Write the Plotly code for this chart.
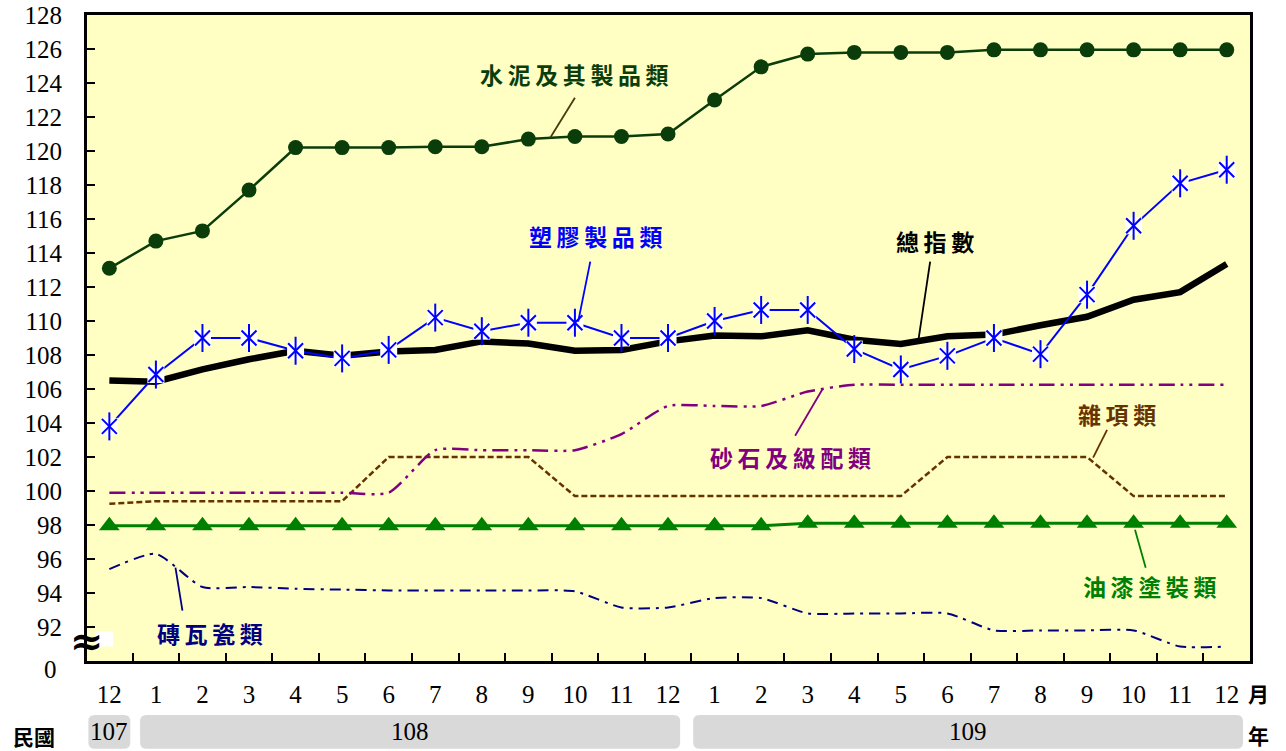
import plotly.graph_objects as go

# ---------------- data ----------------
months = ["12", "1", "2", "3", "4", "5", "6", "7", "8", "9", "10", "11", "12",
          "1", "2", "3", "4", "5", "6", "7", "8", "9", "10", "11", "12"]
x_idx = list(range(len(months)))

cement = [113.1, 114.7, 115.3, 117.7, 120.2, 120.2, 120.2, 120.25, 120.25, 120.7, 120.85, 120.85, 121.0,
          123.0, 124.95, 125.7, 125.8, 125.8, 125.8, 125.95, 125.95, 125.95, 125.95, 125.95, 125.95]
total = [106.5, 106.43, 107.15, 107.75, 108.25, 107.95, 108.2, 108.3, 108.8, 108.67, 108.25, 108.3, 108.8,
         109.15, 109.1, 109.45, 108.9, 108.65, 109.1, 109.2, 109.75, 110.25, 111.25, 111.7, 113.35]
plastic = [103.8, 106.85, 109.0, 109.0, 108.25, 107.8, 108.3, 110.2, 109.4, 109.9, 109.9, 109.0, 109.0,
           110.0, 110.65, 110.65, 108.35, 107.15, 107.95, 109.0, 108.05, 111.55, 115.6, 118.1, 118.9]
gravel = [99.9, 99.9, 99.9, 99.9, 99.9, 99.9, 99.9, 102.4, 102.4, 102.4, 102.4, 103.35, 105.0,
          105.0, 105.0, 105.85, 106.25, 106.25, 106.25, 106.25, 106.25, 106.25, 106.25, 106.25, 106.25]
misc = [99.25, 99.4, 99.4, 99.4, 99.4, 99.4, 102.0, 102.0, 102.0, 102.0, 99.7, 99.7, 99.7,
        99.7, 99.7, 99.7, 99.7, 99.7, 102.0, 102.0, 102.0, 102.0, 99.7, 99.7, 99.7]
paint = [97.95] * 15 + [98.1] * 10
tile = [95.4, 96.3, 94.35, 94.35, 94.25, 94.2, 94.15, 94.15, 94.15, 94.15, 94.1, 93.15, 93.15,
        93.7, 93.7, 92.8, 92.8, 92.8, 92.8, 91.8, 91.8, 91.8, 91.8, 90.85, 90.85]

y_tickvals = list(range(90, 129, 2))
y_ticktext = [""] + [str(v) for v in range(92, 129, 2)]
y_break_label = "0"

years = ["107", "108", "109"]
year_spans = [(-0.45, 0.45), (0.66, 12.26), (12.54, 24.35)]

series_labels = ["水泥及其製品類", "塑膠製品類", "總指數", "砂石及級配類", "雜項類", "油漆塗裝類", "磚瓦瓷類"]

# ---------------- colours ----------------
C_CEMENT = "#0b3d0b"
C_BLUE = "#0000ff"
C_BLACK = "#000000"
C_PURPLE = "#800080"
C_BROWN = "#663300"
C_GREEN = "#008000"
C_NAVY = "#000080"

NUM_FONT = "Liberation Serif, Times New Roman, serif"
CJK_FONT = "Noto Sans CJK TC, Noto Sans CJK SC, sans-serif"
NUM_SIZE = 25


def spaced(s):
    return "\u2009".join(s)


fig = go.Figure()

# tile
fig.add_trace(go.Scatter(x=x_idx, y=tile, mode="lines",
                         line=dict(color=C_NAVY, width=2, dash="11px,6px,3px,6px", shape="spline", smoothing=0.6),
                         name=series_labels[6]))
# paint
fig.add_trace(go.Scatter(x=x_idx, y=paint, mode="lines+markers", line=dict(color=C_GREEN, width=3),
                         marker=dict(symbol="triangle-up", size=18, color=C_GREEN), name=series_labels[5]))
# misc
fig.add_trace(go.Scatter(x=x_idx, y=misc, mode="lines", line=dict(color=C_BROWN, width=2.5, dash="6px,3px"),
                         name=series_labels[4]))
# gravel
fig.add_trace(go.Scatter(x=x_idx, y=gravel, mode="lines",
                         line=dict(color=C_PURPLE, width=2.5, dash="16px,6px,3px,6px,3px,6px",
                                   shape="spline", smoothing=0.6),
                         name=series_labels[3]))
# total
fig.add_trace(go.Scatter(x=x_idx, y=total, mode="lines", line=dict(color=C_BLACK, width=6.5),
                         name=series_labels[2]))
# plastic: line + white square backgrounds + 6-armed star
fig.add_trace(go.Scatter(x=x_idx, y=plastic, mode="lines+markers", line=dict(color=C_BLUE, width=2),
                         marker=dict(symbol="square", size=17, color="white", line=dict(width=0)),
                         name=series_labels[1]))
fig.add_trace(go.Scatter(x=x_idx, y=plastic, mode="markers",
                         marker=dict(symbol="x-thin-open", size=15, color=C_BLUE, line=dict(color=C_BLUE, width=2)),
                         showlegend=False, hoverinfo="skip"))
fig.add_trace(go.Scatter(x=x_idx, y=plastic, mode="markers",
                         marker=dict(symbol="line-ns-open", size=20, color=C_BLUE, line=dict(color=C_BLUE, width=2)),
                         showlegend=False, hoverinfo="skip"))
# cement
fig.add_trace(go.Scatter(x=x_idx, y=cement, mode="lines+markers", line=dict(color=C_CEMENT, width=2.5),
                         marker=dict(symbol="circle", size=15, color=C_CEMENT), name=series_labels[0]))

# ---------------- annotations (labels + leader lines) ----------------
label_specs = [
    (series_labels[0], C_CEMENT, 10.0, 124.55, (10.0, 123.13, 9.47, 120.78), "#4a3a10"),
    (series_labels[1], C_BLUE, 10.45, 115.02, (10.33, 113.49, 10.07, 109.96), C_BLUE),
    (series_labels[2], C_BLACK, 17.73, 114.72, (17.63, 113.49, 17.37, 108.73), C_BLACK),
    (series_labels[3], C_PURPLE, 14.62, 102.02, (14.73, 103.25, 15.31, 105.96), C_PURPLE),
    (series_labels[4], C_BROWN, 21.64, 104.55, (21.43, 103.6, 21.13, 101.96), C_BROWN),
    (series_labels[5], C_GREEN, 22.35, 94.43, (22.03, 97.72, 22.26, 95.48), C_GREEN),
    (series_labels[6], C_NAVY, 2.17, 91.66, (1.57, 92.96, 1.42, 95.49), C_NAVY),
]
for text, col, ax, ay, (x0, y0, x1, y1), lcol in label_specs:
    fig.add_annotation(x=ax, y=ay, xref="x", yref="y", text="<b>" + spaced(text) + "</b>", showarrow=False,
                       font=dict(family=CJK_FONT, size=23, color=col))
    fig.add_shape(type="line", xref="x", yref="y", x0=x0, y0=y0, x1=x1, y1=y1,
                  line=dict(color=lcol, width=1.8), layer="above")

# axis break marker and the "0" label under it
fig.add_shape(type="rect", xref="paper", yref="y", x0=0.007, x1=0.0225, y0=90.85, y1=91.75,
              fillcolor="white", line=dict(width=0), layer="above")
fig.add_annotation(x=0.0, y=91.2, xref="paper", yref="y", text="<b>≈</b>", showarrow=False,
                   font=dict(family="DejaVu Serif", size=40, color="black"), xanchor="center", yanchor="middle")
fig.add_annotation(x=-0.0241, y=-0.0125, xref="paper", yref="paper", text=y_break_label, showarrow=False,
                   font=dict(family=NUM_FONT, size=NUM_SIZE, color="black"), xanchor="right", yanchor="middle")


# ---------------- year boxes ----------------
def rounded_box(x0, x1, y0, y1, rx, ry):
    return (f"M {x0 + rx},{y0} L {x1 - rx},{y0} Q {x1},{y0} {x1},{y0 + ry} "
            f"L {x1},{y1 - ry} Q {x1},{y1} {x1 - rx},{y1} L {x0 + rx},{y1} "
            f"Q {x0},{y1} {x0},{y1 - ry} L {x0},{y0 + ry} Q {x0},{y0} {x0 + rx},{y0} Z")


box_y0, box_y1 = -0.136, -0.0836
for yr, (a, b) in zip(years, year_spans):
    fig.add_shape(type="path", xref="x", yref="paper",
                  path=rounded_box(a, b, box_y0, box_y1, 0.14, 0.01),
                  fillcolor="#d9d9d9", line=dict(width=0))
    fig.add_annotation(x=(a + b) / 2, y=(box_y0 + box_y1) / 2, xref="x", yref="paper", text=yr,
                       showarrow=False, font=dict(family=NUM_FONT, size=NUM_SIZE, color="black"),
                       yanchor="middle")

fig.add_annotation(x=-0.0455, y=-0.1155, xref="paper", yref="paper", text="<b>民國</b>", showarrow=False,
                   font=dict(family=CJK_FONT, size=21, color="black"), xanchor="center", yanchor="middle")
fig.add_annotation(x=1.007, y=-0.114, xref="paper", yref="paper", text="<b>年</b>", showarrow=False,
                   font=dict(family=CJK_FONT, size=21, color="black"), xanchor="center", yanchor="middle")
fig.add_annotation(x=1.007, y=-0.0495, xref="paper", yref="paper", text="<b>月</b>", showarrow=False,
                   font=dict(family=CJK_FONT, size=21, color="black"), xanchor="center", yanchor="middle")

fig.update_layout(
    width=1286, height=751,
    margin=dict(l=87, r=36, t=15, b=90, autoexpand=False),
    paper_bgcolor="white",
    plot_bgcolor="#ffffc4",
    showlegend=False,
    xaxis=dict(
        range=[-0.48, 24.5], automargin=False,
        tickmode="array", tickvals=x_idx, ticktext=months,
        ticks="", ticklabelstandoff=9,
        tickfont=dict(family=NUM_FONT, size=NUM_SIZE, color="black"),
        showgrid=False, zeroline=False,
        showline=True, linecolor="black", linewidth=3, mirror=True,
        minor=dict(tickmode="array", tickvals=[i + 0.5 for i in range(24)], ticks="inside",
                   ticklen=8, tickwidth=2, tickcolor="black", showgrid=False),
    ),
    yaxis=dict(
        range=[90, 128], automargin=False,
        tickmode="array", tickvals=y_tickvals, ticktext=y_ticktext,
        ticks="inside", ticklen=8, tickwidth=2, tickcolor="black",
        ticklabelstandoff=17,
        tickfont=dict(family=NUM_FONT, size=NUM_SIZE, color="black"),
        showgrid=False, zeroline=False,
        showline=True, linecolor="black", linewidth=3, mirror=True,
    ),
)

fig.write_html("out.html", config={"displayModeBar": False},
               post_script="document.body.style.margin='0px';")
